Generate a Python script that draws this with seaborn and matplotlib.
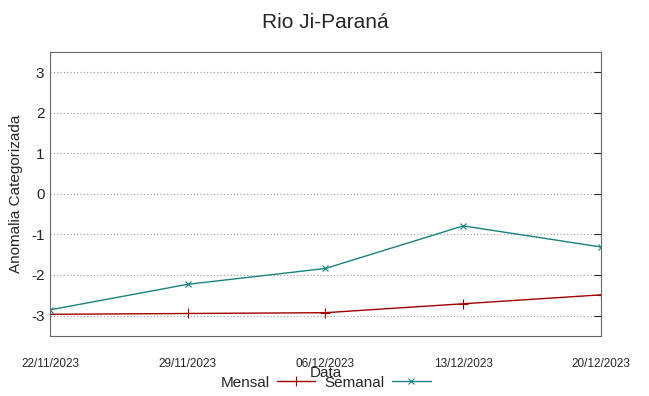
import pandas as pd
import matplotlib.pyplot as plt
import matplotlib.dates as mdates
import seaborn as sns

# Dados
datas = ['22/11/2023', '29/11/2023', '06/12/2023', '13/12/2023', '20/12/2023']
mensal = [-2.97, -2.95, -2.93, -2.71, -2.49]
semanal = [-2.86, -2.23, -1.84, -0.79, -1.31]

df = pd.DataFrame({
    'Data': pd.to_datetime(datas, format='%d/%m/%Y'),
    'Mensal': mensal,
    'Semanal': semanal,
})

sns.set_style("white")
plt.rcParams['font.family'] = ['Liberation Sans', 'DejaVu Sans']
plt.rcParams['axes.unicode_minus'] = False

fig = plt.figure(figsize=(6.49, 3.96), dpi=100)
ax = fig.add_axes([0.077, 0.152, 0.849, 0.717])

sns.lineplot(data=df, x='Data', y='Mensal', ax=ax, color='#a00000', lw=1,
             marker='+', markersize=7, markeredgewidth=0.8, markeredgecolor='#a00000',
             label='Mensal')
sns.lineplot(data=df, x='Data', y='Semanal', ax=ax, color='#1a8080', lw=1,
             marker='x', markersize=5, markeredgewidth=0.8, markeredgecolor='#1a8080',
             label='Semanal')

ax.set_ylim(-3.5, 3.5)
ax.set_xlim(df['Data'].iloc[0], df['Data'].iloc[-1])
ax.set_xticks(df['Data'])
ax.xaxis.set_major_formatter(mdates.DateFormatter('%d/%m/%Y'))
ax.set_yticks(range(-3, 4))

ax.yaxis.grid(True, linestyle=(0, (1, 2)), color='#999999', lw=0.8)
ax.tick_params(axis='x', direction='in', length=5, pad=16, labelsize=8.5, top=False)
ax.tick_params(axis='y', direction='in', length=5, pad=4, labelsize=11, right=True)
for s in ax.spines.values():
    s.set_color('#666666')

ax.set_title('Rio Ji-Paraná', fontsize=15, pad=17)
ax.set_xlabel('Data', fontsize=11, labelpad=-3)
ax.set_ylabel('Anomalia Categorizada', fontsize=11, labelpad=6)

ax.legend(loc='center', bbox_to_anchor=(0.5, -0.165), ncol=2, frameon=False,
          markerfirst=False, fontsize=11, handlelength=2.5, columnspacing=0.6,
          handletextpad=0.5, borderaxespad=0, borderpad=0)

plt.savefig('out.png', dpi=100)
